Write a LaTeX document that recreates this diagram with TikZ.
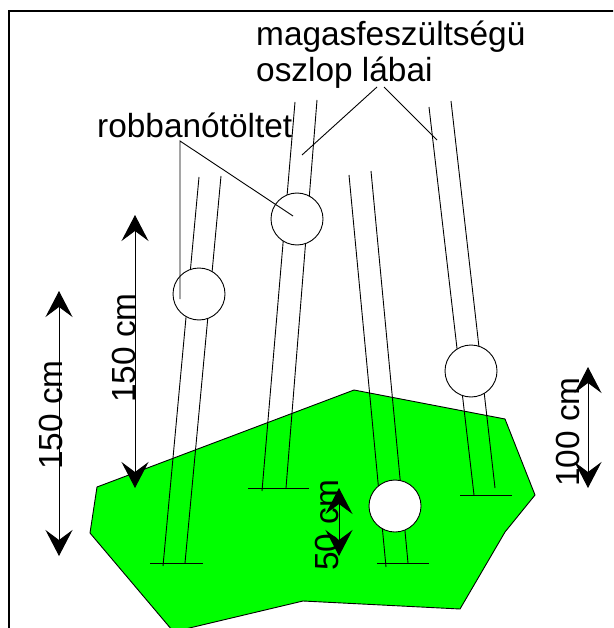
\documentclass[tikz,border=0pt]{standalone}
\usepackage{fontspec}
\setmainfont{Liberation Sans}
\usetikzlibrary{arrows.meta}
\definecolor{ground}{RGB}{0,255,0}
\tikzset{
  thin line/.style={draw=black,line width=0.9pt},
  charge/.style={circle,draw=black,fill=white,line width=0.9pt,minimum size=52pt,inner sep=0pt},
  dimarrow/.style={draw=black,line width=1pt,{Stealth[length=26pt,width=27pt,inset=10pt]}-{Stealth[length=26pt,width=27pt,inset=10pt]}},
  label/.style={inner sep=0pt,font=\fontsize{33.4}{37}\selectfont}
}
\begin{document}
\begin{tikzpicture}[x=1pt,y=-1pt]
\useasboundingbox (0,0) rectangle (613,628);
\begin{scope}
\clip (0,0) rectangle (613,628);
\fill[white] (0,0) rectangle (613,628);
% frame
\draw[line width=2.6pt,line cap=butt] (9,640) -- (9,11) -- (620,11);
% ground
\draw[thin line,fill=ground] (97,487) -- (90,533) -- (172,630) -- (181,630) -- (303,601) -- (460,609) -- (505,532) -- (535,495) -- (505,419) -- (354,390) -- cycle;
\end{scope}
% legs
\coordinate (l1a) at (199,177); \coordinate (l1b) at (163,566);
\coordinate (l2a) at (221,176); \coordinate (l2b) at (185,563);
\coordinate (l3a) at (295,102); \coordinate (l3b) at (262,491);
\coordinate (l4a) at (317,100); \coordinate (l4b) at (286,488);
\coordinate (l5a) at (349,175); \coordinate (l5b) at (386,567);
\coordinate (l6a) at (371,171); \coordinate (l6b) at (408,563);
\coordinate (l7a) at (429,107); \coordinate (l7b) at (474,495);
\coordinate (l8a) at (451,101); \coordinate (l8b) at (495,488);
\foreach \n in {1,...,8} \draw[thin line] (l\n a) -- (l\n b);
% feet
\coordinate (f1a) at (150,563); \coordinate (f1b) at (203,563);
\coordinate (f2a) at (248,488); \coordinate (f2b) at (309,488);
\coordinate (f3a) at (377,563); \coordinate (f3b) at (429,563);
\coordinate (f4a) at (460,495); \coordinate (f4b) at (512,495);
\foreach \n in {1,...,4} \draw[thin line] (f\n a) -- (f\n b);
% charges
\node[charge] (c1) at (199,294) {};
\node[charge] (c2) at (297,219) {};
\node[charge] (c3) at (395,506) {};
\node[charge] (c4) at (471,371) {};
% leaders
\coordinate (rob) at (180,141);
\coordinate (rob1) at (180,299);
\coordinate (rob2) at (293,216);
\draw[thin line] (rob1) -- (rob) -- (rob2);
\coordinate (mag1a) at (377,87); \coordinate (mag1b) at (302,155);
\coordinate (mag2a) at (384,87); \coordinate (mag2b) at (437,140);
\draw[thin line] (mag1a) -- (mag1b);
\draw[thin line] (mag2a) -- (mag2b);
% dimension arrows
\coordinate (d1a) at (59,291); \coordinate (d1b) at (59,556);
\coordinate (d2a) at (135,215); \coordinate (d2b) at (135,488);
\coordinate (d3a) at (339,488); \coordinate (d3b) at (339,556);
\coordinate (d4a) at (588,367); \coordinate (d4b) at (588,488);
\foreach \n in {1,...,4} \draw[dimarrow] (d\n a) -- (d\n b);
% labels
\node[label,anchor=base west] (trob) at (97,138) {robbanótöltet};
\node[label,anchor=base west] (tmag) at (256,46) {magasfeszültségü};
\node[label,anchor=base west] (tosz) at (256,82) {oszlop lábai};
\node[label,anchor=base west,rotate=90] (t150a) at (62,470) {150 cm};
\node[label,anchor=base west,rotate=90] (t150b) at (135,403) {150 cm};
\node[label,anchor=base west,rotate=90] (t50) at (338,571) {50 cm};
\node[label,anchor=base west,rotate=90] (t100) at (579,487) {100 cm};
\end{tikzpicture}
\end{document}
